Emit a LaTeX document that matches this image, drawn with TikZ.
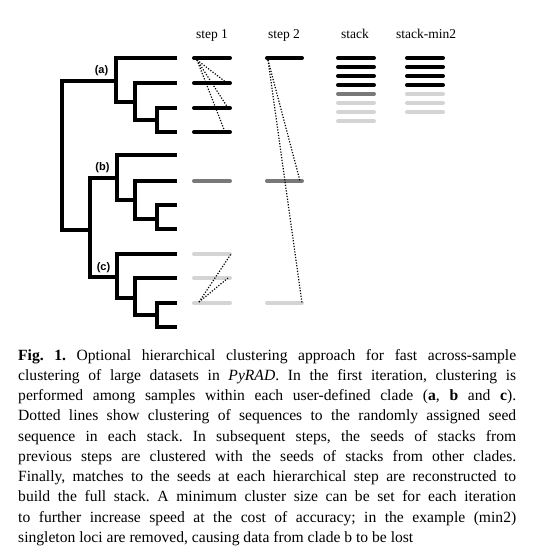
\documentclass[tikz,border=0pt]{standalone}
\usepackage{fontspec}
\setmainfont{Liberation Serif}
\newfontfamily\labfont{Liberation Sans}
\definecolor{midgray}{RGB}{120,120,120}
\definecolor{lightgray2}{RGB}{212,212,212}
\newcommand{\capline}[1]{\makebox[498pt][s]{#1}\\}
\begin{document}
\begin{tikzpicture}[x=1pt,y=-1pt,
  tree/.style={line width=4pt, line cap=butt, line join=miter},
  bar/.style={line width=4pt, line cap=round},
  dots/.style={line width=1.2pt, dash pattern=on 1.2pt off 1.6pt},
  head/.style={font=\fontsize{13.5}{16}\selectfont, inner sep=0pt, anchor=base},
  clab/.style={font=\labfont\bfseries\fontsize{11}{13}\selectfont, inner sep=0pt}]
\useasboundingbox (0,0) rectangle (534,559);

% headings
\node[head] (h1) at (212,39) {step 1};
\node[head] (h2) at (284,39) {step 2};
\node[head] (h3) at (355,39) {stack};
\node[head] (h4) at (426,39) {stack-min2};

% tree coordinates
\coordinate (R) at (62,81);
\coordinate (A) at (116,81);
\coordinate (BC) at (90,230);
% clade a
\draw[tree] (177,58) -- (116,58) -- (116,102) -- (135,102);
\draw[tree] (177,83) -- (135,83) -- (135,120) -- (157,120);
\draw[tree] (177,108) -- (157,108) -- (157,132) -- (177,132);
% root
\draw[tree] (A) -- (R) -- (62,230) -- (BC);
% b/c ancestor
\draw[tree] (117,178) -- (90,178) -- (90,277) -- (117,277);
% clade b
\draw[tree] (177,155) -- (117,155) -- (117,200) -- (135,200);
\draw[tree] (177,181) -- (135,181) -- (135,219) -- (157,219);
\draw[tree] (177,205) -- (157,205) -- (157,229) -- (177,229);
% clade c
\draw[tree] (177,254) -- (117,254) -- (117,298) -- (135,298);
\draw[tree] (177,278) -- (135,278) -- (135,315) -- (157,315);
\draw[tree] (177,303) -- (157,303) -- (157,327) -- (177,327);

\node[clab] (la) at (101.5,71) {(a)};
\node[clab] (lb) at (102.5,167.5) {(b)};
\node[clab] (lc) at (103.5,267.5) {(c)};

% step 1 bars
\draw[bar,black] (194,58) coordinate (s1aL) -- (230,58) coordinate (s1aR);
\draw[bar,black] (194,83) coordinate (s1bL) -- (230,83) coordinate (s1bR);
\draw[bar,black] (194,108) coordinate (s1cL) -- (230,108) coordinate (s1cR);
\draw[bar,black] (194,132) coordinate (s1dL) -- (230,132) coordinate (s1dR);
\draw[bar,midgray] (194,181) coordinate (s1eL) -- (230,181) coordinate (s1eR);
\draw[bar,lightgray2] (194,254) coordinate (s1fL) -- (230,254) coordinate (s1fR);
\draw[bar,lightgray2] (194,278) coordinate (s1gL) -- (230,278) coordinate (s1gR);
\draw[bar,lightgray2] (194,303) coordinate (s1hL) -- (230,303) coordinate (s1hR);

% step 2 bars
\draw[bar,black] (267,58) coordinate (s2aL) -- (302,58) coordinate (s2aR);
\draw[bar,midgray] (267,181) coordinate (s2bL) -- (302,181) coordinate (s2bR);
\draw[bar,lightgray2] (267,303) coordinate (s2cL) -- (302,303) coordinate (s2cR);

% stack
\foreach \y/\c in {58/black,67/black,76/black,85/black,94/midgray,103/lightgray2,112/lightgray2,121/lightgray2}
  \draw[bar,\c] (338,\y) -- (374,\y);
% stack-min2
\foreach \y/\c in {58/black,67/black,76/black,85/black,94/lightgray2,103/lightgray2,112/lightgray2}
  \draw[bar,\c] (407,\y) -- (443,\y);

% dotted clustering lines
\coordinate (d1) at (197,60);
\draw[dots] (d1) -- (227,83);
\draw[dots] (d1) -- (228,108);
\draw[dots] (d1) -- (225,132);
\coordinate (d2) at (199,302);
\draw[dots] (d2) -- (231,254);
\draw[dots] (d2) -- (228,278);
\coordinate (d3) at (268,60);
\draw[dots] (d3) -- (300,181);
\draw[dots] (d3) -- (302,303);

% caption
\node[anchor=north west, inner sep=0pt, font=\frenchspacing\fontsize{15.6}{20.25}\selectfont] (cap) at (18,349) {\parbox[t]{498pt}{\frenchspacing%
\capline{\textbf{Fig. 1.} Optional hierarchical clustering approach for fast across-sample}
\capline{clustering of large datasets in \textit{PyRAD}. In the first iteration, clustering is}
\capline{performed among samples within each user-defined clade (\textbf{a}, \textbf{b} and \textbf{c}).}
\capline{Dotted lines show clustering of sequences to the randomly assigned seed}
\capline{sequence in each stack. In subsequent steps, the seeds of stacks from}
\capline{previous steps are clustered with the seeds of stacks from other clades.}
\capline{Finally, matches to the seeds at each hierarchical step are reconstructed to}
\capline{build the full stack. A minimum cluster size can be set for each iteration}
\capline{to further increase speed at the cost of accuracy; in the example (min2)}
singleton loci are removed, causing data from clade b to be lost}};
\end{tikzpicture}
\end{document}
